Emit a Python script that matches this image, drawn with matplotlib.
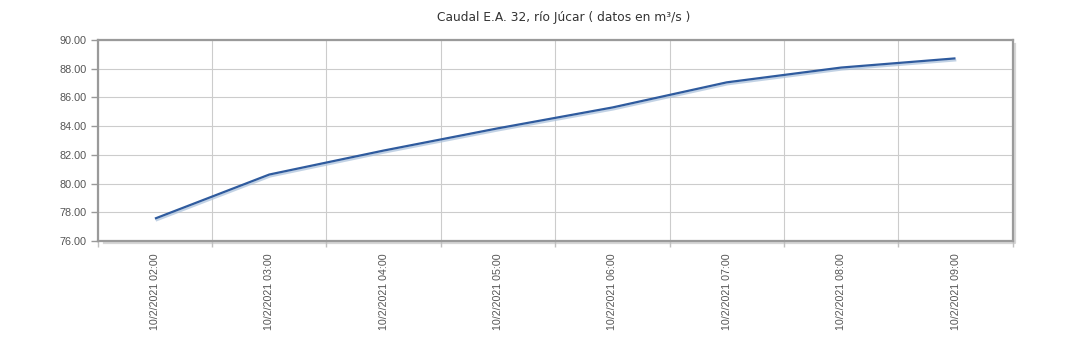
import matplotlib
matplotlib.use("Agg")
import matplotlib.pyplot as plt
import matplotlib.patheffects as pe
from matplotlib.lines import Line2D
from matplotlib.transforms import offset_copy
import numpy as np

title = "Caudal E.A. 32, río Júcar ( datos en m³/s )"
categories = ["10/2/2021 02:00", "10/2/2021 03:00", "10/2/2021 04:00", "10/2/2021 05:00",
              "10/2/2021 06:00", "10/2/2021 07:00", "10/2/2021 08:00", "10/2/2021 09:00"]
caudal = [77.56, 80.63, 82.30, 83.85, 85.30, 87.05, 88.08, 88.72]
y_ticks = [76, 78, 80, 82, 84, 86, 88, 90]

fig = plt.figure(figsize=(10.73, 3.58), dpi=100)
ax = fig.add_axes([0.0911, 0.3268, 0.8527, 0.5615])

x = np.arange(len(categories))
ax.plot(x, caudal, color="#2f5b9e", lw=1.6, solid_capstyle="butt", zorder=5,
        path_effects=[pe.SimpleLineShadow(offset=(0.6, -1.4), shadow_color="#a9c0da", alpha=0.7),
                      pe.Normal()])

ax.set_xlim(-0.5, len(categories) - 0.5)
ax.set_ylim(y_ticks[0], y_ticks[-1])
ax.set_yticks(y_ticks)
ax.set_yticklabels([f"{v:.2f}" for v in y_ticks])

ax.set_xticks(x)
ax.set_xticklabels(categories, rotation=90, fontsize=7.7, color="#555555",
                   family="Liberation Sans")
ax.set_xticks(np.arange(-0.5, len(categories) + 0.5, 1), minor=True)

ax.tick_params(axis="x", which="major", length=0, pad=9)
ax.tick_params(axis="x", which="minor", length=4, color="#c0c0c0", width=1)
ax.tick_params(axis="y", length=5, color="#999999", width=1, labelsize=7.8,
               labelcolor="#555555", pad=3)
for lab in ax.get_yticklabels():
    lab.set_family("Liberation Sans")

ax.grid(True, axis="y", which="major", color="#cccccc", lw=0.8)
ax.grid(True, axis="x", which="minor", color="#cccccc", lw=0.8)
ax.grid(False, axis="x", which="major")
ax.set_axisbelow(True)

for s in ax.spines.values():
    s.set_color("#9a9a9a")
    s.set_linewidth(1.6)

shadow_tr = offset_copy(ax.transAxes, fig=fig, x=2.2, y=-2.2, units="dots")
shadow = Line2D([0.004, 1, 1], [0, 0, 0.99], transform=shadow_tr, color="#d6d6d6",
                lw=1.6, clip_on=False, zorder=0.5)
ax.add_line(shadow)

fig.text(564 / 1073, 1 - 17 / 358, title, ha="center", va="center", fontsize=8.8,
         color="#333333", family="DejaVu Sans")

fig.savefig("out.png", dpi=100)
